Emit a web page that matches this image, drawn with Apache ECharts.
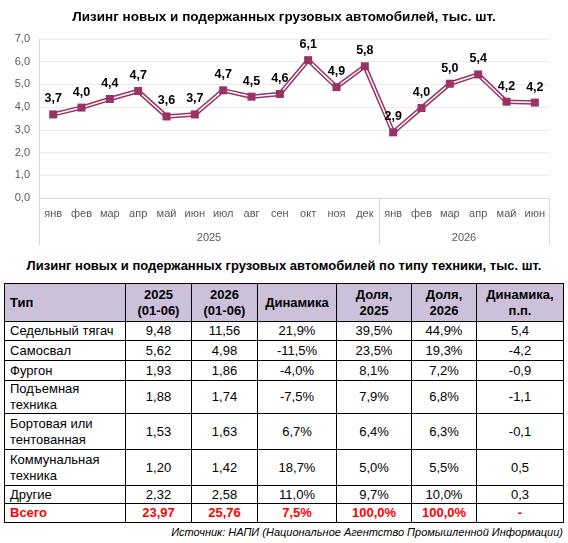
<!DOCTYPE html>
<html><head><meta charset="utf-8">
<script src="https://cdn.jsdelivr.net/npm/echarts@6/dist/echarts.min.js"></script>
<style>
html,body{margin:0;padding:0;background:#fff;}
#wrap{position:relative;width:568px;height:543px;background:#fff;font-family:'Liberation Sans',Arial,sans-serif;}
#chart{position:absolute;left:0;top:0;width:568px;height:252px;}
#ttitle{position:absolute;left:0;top:258px;width:568px;text-align:center;font-weight:bold;font-size:13px;line-height:16px;color:#000;white-space:nowrap;}
#tbl{position:absolute;left:4px;top:283px;width:559px;border-collapse:collapse;table-layout:fixed;font-size:13px;color:#000;}
#tbl td{border:1px solid #000;padding:0;text-align:center;vertical-align:middle;line-height:16px;white-space:pre-line;}
#tbl td.lab{text-align:left;padding-left:5px;}
#tbl tr.head td{background:#ccc0da;font-weight:bold;}
#tbl tr.total td{color:#ff0000;font-weight:bold;}
#src{position:absolute;right:5px;top:525px;font-style:italic;font-size:11px;line-height:14px;color:#000;white-space:nowrap;}
</style></head>
<body><div id="wrap">
<div id="chart"></div>
<div id="ttitle"></div>
<table id="tbl"></table>
<div id="src"></div>
</div>
<script>
// ---- chart data ----
var chartTitle = 'Лизинг новых и подержанных грузовых автомобилей, тыс. шт.';
var months = ['янв','фев','мар','апр','май','июн','июл','авг','сен','окт','ноя','дек','янв','фев','мар','апр','май','июн'];
var years = ['2025','2026'];
var monthsPerYear = [12, 6];
var values = [3.68,3.98,4.36,4.71,3.59,3.68,4.74,4.46,4.58,6.07,4.88,5.80,2.89,3.96,5.03,5.44,4.24,4.20];
var yTicks = [0,1,2,3,4,5,6,7];

// ---- table data ----
var tableTitle = 'Лизинг новых и подержанных грузовых автомобилей по типу техники, тыс. шт.';
var headers = ['Тип','2025\n(01-06)','2026\n(01-06)','Динамика','Доля,\n2025','Доля,\n2026','Динамика,\nп.п.'];
var types = ['Седельный тягач','Самосвал','Фургон','Подъемная\nтехника','Бортовая или\nтентованная','Коммунальная\nтехника','Другие','Всего'];
var vol2025 = [9.48,5.62,1.93,1.88,1.53,1.20,2.32,23.97];
var vol2026 = [11.56,4.98,1.86,1.74,1.63,1.42,2.58,25.76];
var dynamics = [21.9,-11.5,-4.0,-7.5,6.7,18.7,11.0,7.5];
var share2025 = [39.5,23.5,8.1,7.9,6.4,5.0,9.7,100.0];
var share2026 = [44.9,19.3,7.2,6.8,6.3,5.5,10.0,100.0];
var dynamicsPP = [5.4,-4.2,-0.9,-1.1,-0.1,0.5,0.3,null];
var sourceText = 'Источник: НАПИ (Национальное Агентство Промышленной Информации)';

// layout (not data)
var colWidths = [121,66,66,79,75,65,87];
var rowHeights = [38,19,20,20,33,36,36,18,19];

function fmt(v, d){ return v.toFixed(d).replace('.', ','); }

// year group boundaries / centers in category units
var bounds = [0], centers = [], acc = 0;
monthsPerYear.forEach(function(n){ centers.push(acc + n/2); acc += n; bounds.push(acc); });

var chart = echarts.init(document.getElementById('chart'), null, {renderer:'canvas'});
var FONT = 'Liberation Sans';
chart.setOption({
  animation:false,
  title:{text:chartTitle,left:'center',top:5,textStyle:{fontFamily:FONT,fontSize:13.5,fontWeight:'bold',color:'#000'}},
  grid:{left:39,right:19,top:39,bottom:54,containLabel:false,outerBoundsMode:'none'},
  xAxis:[{
    type:'category',data:months,boundaryGap:true,
    axisLine:{lineStyle:{color:'#d9d9d9'}},
    axisTick:{show:false},
    axisLabel:{color:'#595959',fontFamily:FONT,fontSize:11,margin:10,interval:0}
  },{
    type:'value',min:0,max:acc,position:'bottom',
    axisLine:{show:false},
    splitLine:{show:false},
    axisTick:{show:true,customValues:bounds,length:47,lineStyle:{color:'#d9d9d9'}},
    axisLabel:{customValues:centers,color:'#595959',fontFamily:FONT,fontSize:11,margin:34,
      formatter:function(v){ var i=centers.indexOf(v); return i>=0?years[i]:''; }}
  }],
  yAxis:{
    type:'value',min:yTicks[0],max:yTicks[yTicks.length-1],interval:1,
    axisLine:{show:true,lineStyle:{color:'#d9d9d9'}},
    axisTick:{show:false},
    splitLine:{lineStyle:{color:'#ebebeb'}},
    axisLabel:{color:'#595959',fontFamily:FONT,fontSize:11,margin:9,formatter:function(v){return fmt(v,1);}}
  },
  series:[{
    type:'line',data:values,xAxisIndex:0,symbol:'none',silent:true,
    lineStyle:{color:'#993366',width:4.5},z:2
  },{
    type:'line',data:values,xAxisIndex:0,symbol:'rect',symbolSize:8,
    itemStyle:{color:'#993366'},
    lineStyle:{color:'#ffffff',width:1.5},z:3,
    label:{show:true,position:'top',distance:5,fontFamily:FONT,fontSize:12.5,fontWeight:'bold',color:'#000',
      formatter:function(p){return fmt(p.value,1);}}
  }]
});

// table
document.getElementById('ttitle').textContent = tableTitle;
document.getElementById('src').textContent = sourceText;
var tbl = document.getElementById('tbl');
var cg = document.createElement('colgroup');
colWidths.forEach(function(w){ var c=document.createElement('col'); c.style.width=w+'px'; cg.appendChild(c); });
tbl.appendChild(cg);
function addRow(cells, cls, h){
  var tr=document.createElement('tr'); if(cls) tr.className=cls; tr.style.height=h+'px';
  cells.forEach(function(t,i){ var td=document.createElement('td'); td.textContent=t; if(i===0) td.className='lab'; tr.appendChild(td); });
  tbl.appendChild(tr);
}
addRow(headers,'head',rowHeights[0]);
types.forEach(function(t,i){
  addRow([t, fmt(vol2025[i],2), fmt(vol2026[i],2), fmt(dynamics[i],1)+'%', fmt(share2025[i],1)+'%', fmt(share2026[i],1)+'%',
    dynamicsPP[i]===null?'-':fmt(dynamicsPP[i],1)], i===types.length-1?'total':'', rowHeights[i+1]);
});
</script>
</body></html>
